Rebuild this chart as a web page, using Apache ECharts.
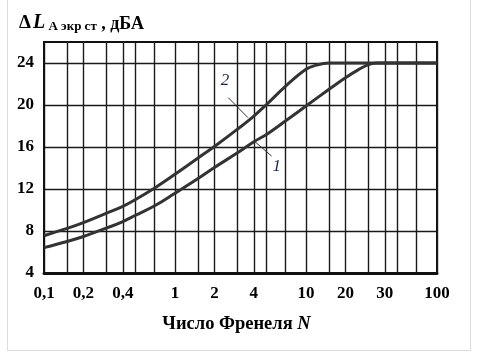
<!DOCTYPE html>
<html><head><meta charset="utf-8">
<script src="https://cdn.jsdelivr.net/npm/echarts@6/dist/echarts.min.js"></script>
<style>html,body{margin:0;padding:0;background:#fff}#c{width:480px;height:362px}</style>
</head><body><div id="c"></div>
<script>
// Grid lines (Fresnel number N) and tick labels
const gridN = [0.1,0.15,0.2,0.3,0.4,0.5,0.7,1,1.5,2,3,4,5,7,10,15,20,30,40,50,70,100];
const xTickValues = [0.1,0.2,0.4,1,2,4,10,20,40,100];
const xTickTexts = ['0,1','0,2','0,4','1','2','4','10','20','30','100'];
const yTicks = [4,8,12,16,20,24];

// Curve 1 (lower)
const curve1N = [0.1,0.15,0.2,0.3,0.4,0.5,0.7,1,1.5,2,3,4,5,7,10,15,20,25,30,35,60,100];
const curve1L = [6.42,7.0,7.48,8.28,8.9,9.5,10.4,11.6,13.0,14.05,15.45,16.5,17.2,18.5,19.9,21.5,22.6,23.35,23.85,24,24,24];
// Curve 2 (upper)
const curve2N = [0.1,0.15,0.2,0.3,0.4,0.5,0.7,1,1.5,2,3,4,5,7,10,12,15,20,40,100];
const curve2L = [7.55,8.25,8.8,9.7,10.35,11.0,12.1,13.4,14.95,16.05,17.7,18.95,20.05,21.8,23.4,23.8,24,24,24,24];

const font = 'Liberation Serif';
const toPairs = (xs, ys) => xs.map((x, i) => [x, ys[i]]);

const chart = echarts.init(document.getElementById('c'));
chart.setOption({
  animation: false,
  backgroundColor: '#fff',
  graphic: [{
    type: 'rect', shape: {x: 7.5, y: -2, width: 463, height: 352.5},
    style: {fill: 'none', stroke: '#dcdcdc', lineWidth: 1}, silent: true
  }],
  title: {
    left: 14, top: 6,
    text: '{d|Δ}{l|L}{s| А экр ст}{n| , дБА}',
    textStyle: {
      rich: {
        d: {fontFamily: font, fontWeight: 'bold', fontSize: 19, color: '#000', verticalAlign: 'bottom', lineHeight: 22, padding: [0, 2, 0, 0]},
        l: {fontFamily: font, fontWeight: 'bold', fontStyle: 'italic', fontSize: 20, color: '#000', verticalAlign: 'bottom', lineHeight: 22},
        s: {fontFamily: font, fontWeight: 'bold', fontSize: 13, color: '#000', verticalAlign: 'bottom', lineHeight: 14},
        n: {fontFamily: font, fontWeight: 'bold', fontSize: 18, color: '#000', verticalAlign: 'bottom', lineHeight: 22}
      }
    }
  },
  grid: {left: 44, right: 43, top: 42, bottom: 89, show: true, borderColor: '#111', borderWidth: 2, backgroundColor: 'transparent'},
  xAxis: {
    type: 'log', logBase: 10, min: 0.1, max: 100,
    name: '{a|Число Френеля }{b|N}', nameLocation: 'middle', nameGap: 42,
    nameTextStyle: {
      padding: [0, 8, 0, 0],
      rich: {
        a: {fontFamily: font, fontWeight: 'bold', fontSize: 18.5, color: '#000'},
        b: {fontFamily: font, fontWeight: 'bold', fontStyle: 'italic', fontSize: 18.5, color: '#000'}
      }
    },
    axisLine: {show: true, lineStyle: {color: '#111', width: 3}},
    axisTick: {show: false, customValues: gridN},
    axisLabel: {
      customValues: xTickValues, margin: 12,
      fontFamily: font, fontWeight: 'bold', fontSize: 17, color: '#000',
      formatter: v => { const i = xTickValues.findIndex(t => Math.abs(t - v) < 1e-9 * Math.max(1, t)); return i >= 0 ? xTickTexts[i] : ''; }
    },
    splitLine: {show: true, lineStyle: {color: '#1a1a1a', width: 1.4}},
    minorTick: {show: false}, minorSplitLine: {show: false}
  },
  yAxis: {
    type: 'value', min: 4, max: 26, interval: 4,
    axisLine: {show: true, lineStyle: {color: '#111', width: 2}},
    axisTick: {show: false, customValues: yTicks},
    axisLabel: {customValues: yTicks, margin: 10, fontFamily: font, fontWeight: 'bold', fontSize: 17, color: '#000'},
    splitLine: {show: true, lineStyle: {color: '#1a1a1a', width: 1.4}}
  },
  series: [
    {
      name: '1', type: 'line', data: toPairs(curve1N, curve1L), smooth: 0.4,
      showSymbol: false, lineStyle: {color: '#333', width: 3},
      markLine: {
        silent: true, symbol: 'none', label: {show: false},
        lineStyle: {color: '#333', width: 1, type: 'solid'},
        data: [[{coord: [4.08, 16.5]}, {coord: [5.47, 15.13]}]]
      },
      markPoint: {
        symbol: 'circle', symbolSize: 0,
        label: {show: true, formatter: '1', fontFamily: font, fontStyle: 'italic', fontSize: 17, color: '#1a2448'},
        data: [{coord: [5.97, 14.1]}]
      }
    },
    {
      name: '2', type: 'line', data: toPairs(curve2N, curve2L), smooth: 0.4,
      showSymbol: false, lineStyle: {color: '#333', width: 3},
      markLine: {
        silent: true, symbol: 'none', label: {show: false},
        lineStyle: {color: '#333', width: 1, type: 'solid'},
        data: [[{coord: [2.55, 20.7]}, {coord: [3.6, 18.8]}]]
      },
      markPoint: {
        symbol: 'circle', symbolSize: 0,
        label: {show: true, formatter: '2', fontFamily: font, fontStyle: 'italic', fontSize: 17, color: '#1a2448'},
        data: [{coord: [2.41, 22.3]}]
      }
    }
  ]
});
</script></body></html>
